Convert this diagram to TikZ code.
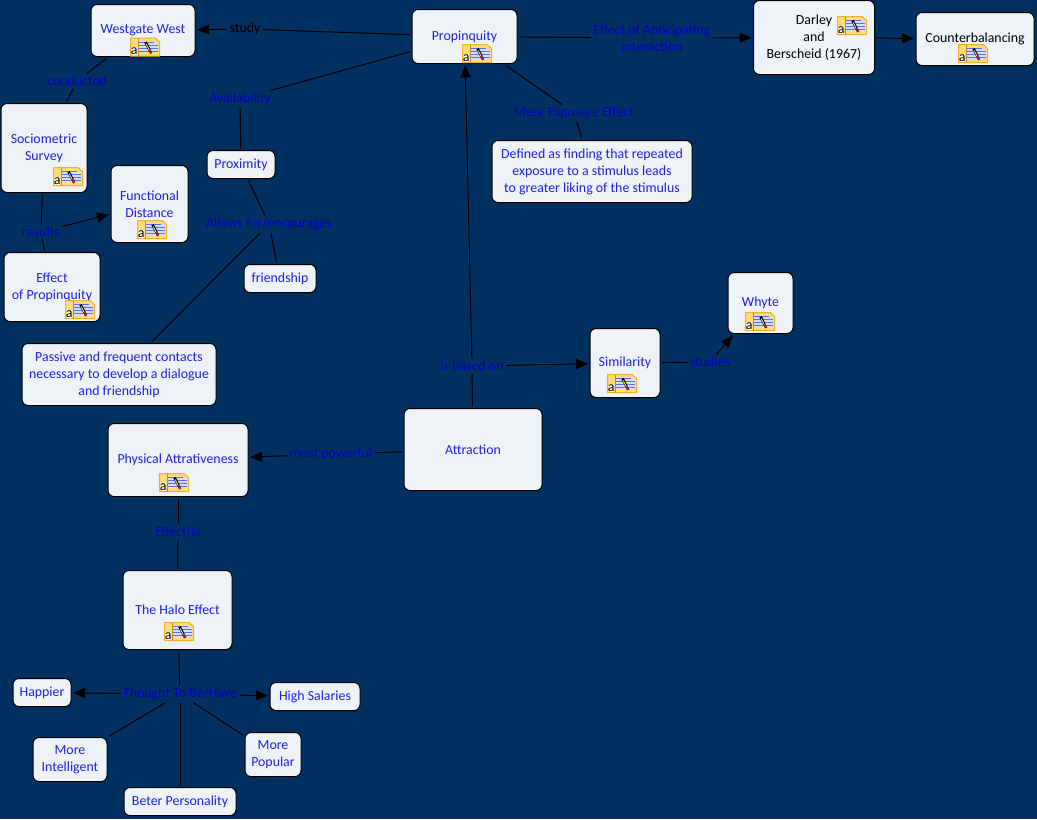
\documentclass[tikz,border=0pt]{standalone}
\usepackage{fontspec}
\setmainfont{Carlito}
\usetikzlibrary{arrows.meta}
\definecolor{bgnavy}{RGB}{0,48,96}
\definecolor{boxfill}{RGB}{237,243,247}
\definecolor{boxtext}{RGB}{32,32,221}
\definecolor{linktext}{RGB}{0,0,204}
\definecolor{notefill}{RGB}{255,221,120}
\definecolor{noteedge}{RGB}{240,176,40}
\definecolor{notepage}{RGB}{205,228,245}
\definecolor{notepencil}{RGB}{150,30,40}
\tikzset{
  conceptbox/.style 2 args={draw=black,fill=boxfill,rounded corners=4.5pt,line width=0.75pt,text=boxtext,align=center,
    font=\fontsize{10.4pt}{12.75pt}\selectfont,inner sep=0pt,outer sep=1.5pt,minimum width=#1*0.75pt,minimum height=#2*0.75pt},
  linklabel/.style={text=linktext,align=center,font=\fontsize{10.4pt}{12.75pt}\selectfont,inner sep=2pt,outer sep=0pt},
  linkline/.style={draw=black,line width=0.75pt},
  linkarrow/.style={linkline,-{Triangle[length=9pt,width=7.5pt]}},
  noteicon/.pic={
    \draw [draw=noteedge,fill=notefill,line width=0.75pt] (-14.5,-9) -- (14.5,-9) -- (14.5,5) -- (10,9) -- (-14.5,9) -- cycle;
    \fill [white] (-13.5,-8) rectangle (-8,0);
    \fill [notepage] (-6,-5) rectangle (12.5,5);
    \draw [draw=noteedge!80!black,line width=0.5pt] (-7,-9) -- (-7,9);
    \draw [draw=blue!60!white,line width=0.5pt] (-6,-4) -- (12.5,-4) (-6,-1) -- (12.5,-1) (-6,2) -- (12.5,2) (-6,5) -- (9,5);
    \draw [draw=black,line width=1.9pt] (0.5,5) -- (4.5,-3);
    \draw [draw=notefill,line width=0.7pt] (1.2,3) -- (4.2,-3);
    \draw [draw=notepencil,line width=1.9pt] (4.5,-3) -- (6.2,-6.5);
    \node [text=black,inner sep=0pt,font=\fontsize{10.5pt}{10.5pt}\selectfont] (-glyph) at (-10.8,-4.5) {a};
  }
}
\begin{document}
\begin{tikzpicture}[x=0.75pt,y=0.75pt,yscale=-1,xscale=1]
\fill [bgnavy] (0,0) rectangle (1037,819);
\useasboundingbox (0,0) rectangle (1037,819);
% concept boxes
\node [conceptbox={104}{52}] (westgate) at (143,30.5) {Westgate West};
\node [conceptbox={105}{54}] (propinquity) at (464.5,36.5) {Propinquity};
\node [conceptbox={121}{74},text=black] (darley) at (814,37.5) {Darley\\and\\Berscheid (1967)};
\node [conceptbox={118}{53},text=black] (counter) at (975,39) {Counterbalancing};
\node [conceptbox={86}{89}] (sociometric) at (44,148) {Sociometric\\Survey};
\node [conceptbox={77}{77}] (functional) at (149.5,204) {Functional\\Distance};
\node [conceptbox={96}{69}] (effectprop) at (52,287) {Effect\\of Propinquity};
\node [conceptbox={68}{28}] (proximity) at (241,164.5) {Proximity};
\node [conceptbox={72}{28}] (friendship) at (280,278.5) {friendship};
\node [conceptbox={194}{62}] (passive) at (119,374.5) {Passive and frequent contacts\\necessary to develop a dialogue\\and friendship};
\node [conceptbox={200}{62}] (defined) at (592,171.5) {Defined as finding that repeated\\exposure to a stimulus leads\\to greater liking of the stimulus};
\node [conceptbox={70}{69}] (similarity) at (625,363) {Similarity};
\node [conceptbox={65}{61}] (whyte) at (760.5,303) {Whyte};
\node [conceptbox={138}{82}] (attraction) at (473,449.5) {Attraction};
\node [conceptbox={140}{73}] (physical) at (178,460) {Physical Attrativeness};
\node [conceptbox={109}{79}] (halo) at (177.5,610) {The Halo Effect};
\node [conceptbox={58}{28}] (happier) at (42,692.5) {Happier};
\node [conceptbox={90}{28}] (salaries) at (315,696.5) {High Salaries};
\node [conceptbox={74}{44}] (intelligent) at (70,759.5) {More\\Intelligent};
\node [conceptbox={56}{44}] (popular) at (273,754.5) {More\\Popular};
\node [conceptbox={112}{28}] (personality) at (180,801.5) {Beter Personality};
% link labels
\node [linklabel,text=black] (study) at (245,29) {study};
\node [linklabel] (conducted) at (77,81) {conducted};
\node [linklabel] (availability) at (240,99) {Availability};
\node [linklabel] (allows) at (269,224) {Allows for/encourages};
\node [linklabel] (results) at (41,232) {results};
\node [linklabel] (anticipating) at (652,38) {Effect of Anticipating\\Interaction};
\node [linklabel] (exposure) at (574,113) {Mere Exposure Effect};
\node [linklabel] (basedon) at (472,366) {is based on};
\node [linklabel] (studies) at (710,362) {studies};
\node [linklabel] (powerful) at (331,454) {most powerful};
\node [linklabel] (effects) at (178,532) {Effect(s)};
\node [linklabel] (thought) at (180,694) {Thought To Be/Have};
% connectors
\draw [linkline] (propinquity) -- (study);
\draw [linkarrow] (study) -- (westgate);
\draw [linkline] (westgate) -- (conducted);
\draw [linkline] (conducted) -- (sociometric);
\draw [linkline] (propinquity) -- (availability);
\draw [linkline] (availability) -- (proximity);
\draw [linkline] (proximity) -- (allows);
\draw [linkline] (allows) -- (friendship);
\draw [linkline] (allows) -- (passive);
\draw [linkline] (sociometric) -- (results);
\draw [linkarrow] (results) -- (functional);
\draw [linkline] (results) -- (effectprop);
\draw [linkline] (propinquity) -- (anticipating);
\draw [linkarrow] (anticipating) -- (darley);
\draw [linkarrow] (darley) -- (counter);
\draw [linkline] (propinquity) -- (exposure);
\draw [linkline] (exposure) -- (defined);
\draw [linkline] (attraction) -- (basedon);
\draw [linkarrow] (basedon) -- (propinquity);
\draw [linkarrow] (basedon) -- (similarity);
\draw [linkline] (similarity) -- (studies);
\draw [linkarrow] (studies) -- (whyte);
\draw [linkline] (attraction) -- (powerful);
\draw [linkarrow] (powerful) -- (physical);
\draw [linkline] (physical) -- (effects);
\draw [linkline] (effects) -- (halo);
\draw [linkline] (halo) -- (thought);
\draw [linkarrow] (thought) -- (happier);
\draw [linkarrow] (thought) -- (salaries);
\draw [linkline] (thought) -- (intelligent);
\draw [linkline] (thought) -- (popular);
\draw [linkline] (thought) -- (personality);
% note icons
\foreach \iconname/\iconx/\icony in {iconwestgate/145/47,iconpropinquity/477/53.5,icondarley/852/25.5,iconcounter/973/53.5,iconsociometric/68/176.5,iconfunctional/152/229.5,iconeffectprop/80/309.5,iconsimilarity/622/383.5,iconwhyte/760/321.5,iconphysical/174/482.5,iconhalo/179/631.5}
  \pic (\iconname) at (\iconx,\icony) {noteicon};
\end{tikzpicture}
\end{document}
